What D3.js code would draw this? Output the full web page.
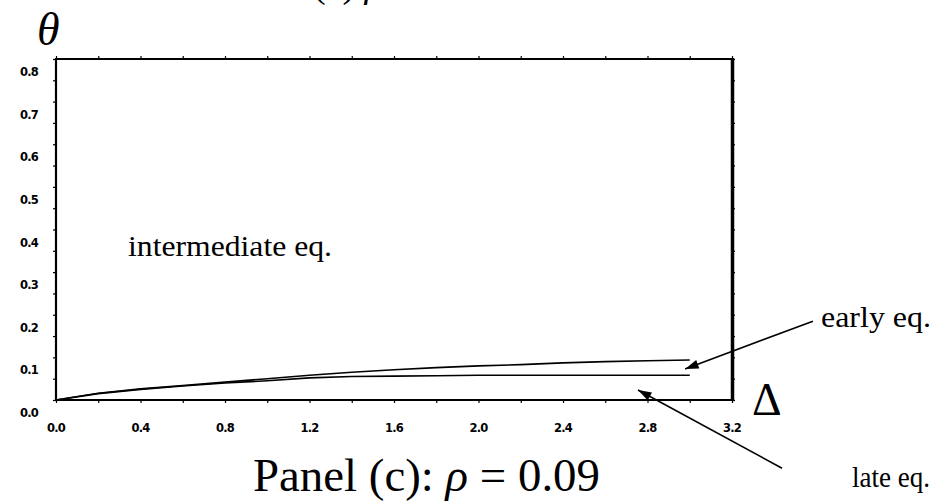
<!DOCTYPE html>
<html>
<head>
<meta charset="utf-8">
<script src="https://cdn.jsdelivr.net/npm/d3@7"></script>
<style>
  html, body { margin: 0; padding: 0; background: #fff; }
  svg { display: block; }
</style>
</head>
<body>
<svg width="941" height="503"></svg>
<script>
(function (d3) {
    'use strict';

    // values
    const delta = [0, 0.2, 0.4, 0.6, 0.8, 1.0, 1.2, 1.4, 1.6, 1.8, 2.0, 2.2, 2.4, 2.6, 2.8, 3.0];
    const earlyEq = [0, 0.016, 0.026, 0.034, 0.042, 0.050, 0.058, 0.065, 0.071, 0.076, 0.080, 0.083, 0.087, 0.090, 0.092, 0.094];
    const lateEq  = [0, 0.015, 0.025, 0.033, 0.040, 0.045, 0.052, 0.055, 0.056, 0.057, 0.058, 0.058, 0.058, 0.058, 0.058, 0.058];
    const xTickLabels = [0, 0.4, 0.8, 1.2, 1.6, 2.0, 2.4, 2.8, 3.2];
    const yTickLabels = [0, 0.1, 0.2, 0.3, 0.4, 0.5, 0.6, 0.7, 0.8];

    const svg = d3.select('svg');
    const x = d3.scaleLinear().domain([0, 3.2]).range([56, 732]);
    const y = d3.scaleLinear().domain([0, 0.8]).range([400, 59]);

    const xMinor = d3.range(0, 3.21, 0.2);
    const yMinor = d3.range(0, 0.801, 0.05);

    // ticks on all four sides, pointing out
    svg.append('g').attr('transform', 'translate(0,400)')
        .call(d3.axisBottom(x).tickValues(xMinor).tickSize(3).tickFormat(''));
    svg.append('g').attr('transform', 'translate(0,59)')
        .call(d3.axisTop(x).tickValues(xMinor).tickSize(3).tickFormat(''));
    svg.append('g').attr('transform', 'translate(56,0)')
        .call(d3.axisLeft(y).tickValues(yMinor).tickSize(3).tickFormat(''));
    svg.append('g').attr('transform', 'translate(732,0)')
        .call(d3.axisRight(y).tickValues(yMinor).tickSize(3).tickFormat(''));
    svg.selectAll('.domain').remove();
    svg.selectAll('.tick line').attr('stroke', '#000').attr('stroke-width', 1.2);

    // frame
    const frame = svg.append('g').attr('stroke', '#000').attr('fill', 'none');
    frame.append('line').attr('x1', x(0)).attr('x2', x(3.2)).attr('y1', y(0)).attr('y2', y(0)).attr('stroke-width', 2.2);
    frame.append('line').attr('x1', x(0)).attr('x2', x(3.2)).attr('y1', y(0.8)).attr('y2', y(0.8)).attr('stroke-width', 2);
    frame.append('line').attr('x1', x(0)).attr('x2', x(0)).attr('y1', y(0) + 1).attr('y2', y(0.8) - 1).attr('stroke-width', 2.2);
    frame.append('line').attr('x1', x(3.2) + 0.5).attr('x2', x(3.2) + 0.5).attr('y1', y(0) + 1).attr('y2', y(0.8) - 1).attr('stroke-width', 3.5);

    // tick labels (old mac style, a bit below their ticks)
    const tickFont = "'DejaVu Sans', sans-serif";
    svg.append('g').selectAll('text').data(yTickLabels).enter().append('text')
        .attr('x', 38)
        .attr('y', d => y(d) + 17)
        .attr('text-anchor', 'end')
        .attr('font-family', tickFont)
        .attr('font-weight', 'bold')
        .attr('font-size', 11.5)
        .attr('letter-spacing', -0.8)
        .text(d => d.toFixed(1));
    svg.append('g').selectAll('text').data(xTickLabels).enter().append('text')
        .attr('x', d => x(d))
        .attr('y', 432)
        .attr('text-anchor', 'middle')
        .attr('font-family', tickFont)
        .attr('font-weight', 'bold')
        .attr('font-size', 11.5)
        .attr('letter-spacing', -0.8)
        .text(d => d.toFixed(1));

    // the two curves
    const line = d3.line().x(d => x(d[0])).y(d => y(d[1]));
    [earlyEq, lateEq].forEach(series => {
        svg.append('path')
            .datum(delta.map((d, i) => [d, series[i]]))
            .attr('d', line)
            .attr('fill', 'none')
            .attr('stroke', '#000')
            .attr('stroke-width', 1.6);
    });

    // arrows
    svg.append('defs').append('marker')
        .attr('id', 'head')
        .attr('viewBox', '0 0 12 8')
        .attr('refX', 12).attr('refY', 4)
        .attr('markerWidth', 15).attr('markerHeight', 9)
        .attr('markerUnits', 'userSpaceOnUse')
        .attr('orient', 'auto')
        .append('path').attr('d', 'M0,0L12,4L0,8Z').attr('fill', '#000');

    const arrows = [
        { from: [3.583, 0.185], to: [2.978, 0.0728] },
        { from: [3.437, -0.160], to: [2.755, 0.0235] }
    ];
    svg.append('g').selectAll('line').data(arrows).enter().append('line')
        .attr('x1', d => x(d.from[0])).attr('y1', d => y(d.from[1]))
        .attr('x2', d => x(d.to[0])).attr('y2', d => y(d.to[1]))
        .attr('stroke', '#000').attr('stroke-width', 1.6)
        .attr('marker-end', 'url(#head)');

    // texts
    const serif = "'Liberation Serif', 'Times New Roman', serif";
    const txt = (tx, ty, size, s, w) => svg.append('text')
        .attr('x', tx).attr('y', ty)
        .attr('font-family', serif).attr('font-size', size)
        .attr('textLength', w).attr('lengthAdjust', 'spacingAndGlyphs')
        .text(s);

    // title, cut off by the top edge as in the source
    const title = svg.append('text').attr('x', 313).attr('y', -3)
        .attr('font-family', serif).attr('font-size', 38);
    title.append('tspan').text('(c) ');
    title.append('tspan').attr('font-style', 'italic').text('ρ');

    svg.append('text').attr('x', 37).attr('y', 45)
        .attr('font-family', serif).attr('font-size', 46)
        .attr('font-style', 'italic').text('θ');
    svg.append('text').attr('x', 752).attr('y', 415)
        .attr('font-family', serif).attr('font-size', 46).text('Δ');
    txt(128, 256, 30, 'intermediate eq.', 204);
    txt(821, 327, 29, 'early eq.', 110);
    txt(852, 487, 29, 'late eq.', 78);

    const panel = svg.append('text').attr('x', 253).attr('y', 491)
        .attr('font-family', serif).attr('font-size', 46)
        .attr('textLength', 347).attr('lengthAdjust', 'spacingAndGlyphs');
    panel.append('tspan').text('Panel (c): ');
    panel.append('tspan').attr('font-style', 'italic').text('ρ');
    panel.append('tspan').text(' = 0.09');
}(d3));
</script>
</body>
</html>
